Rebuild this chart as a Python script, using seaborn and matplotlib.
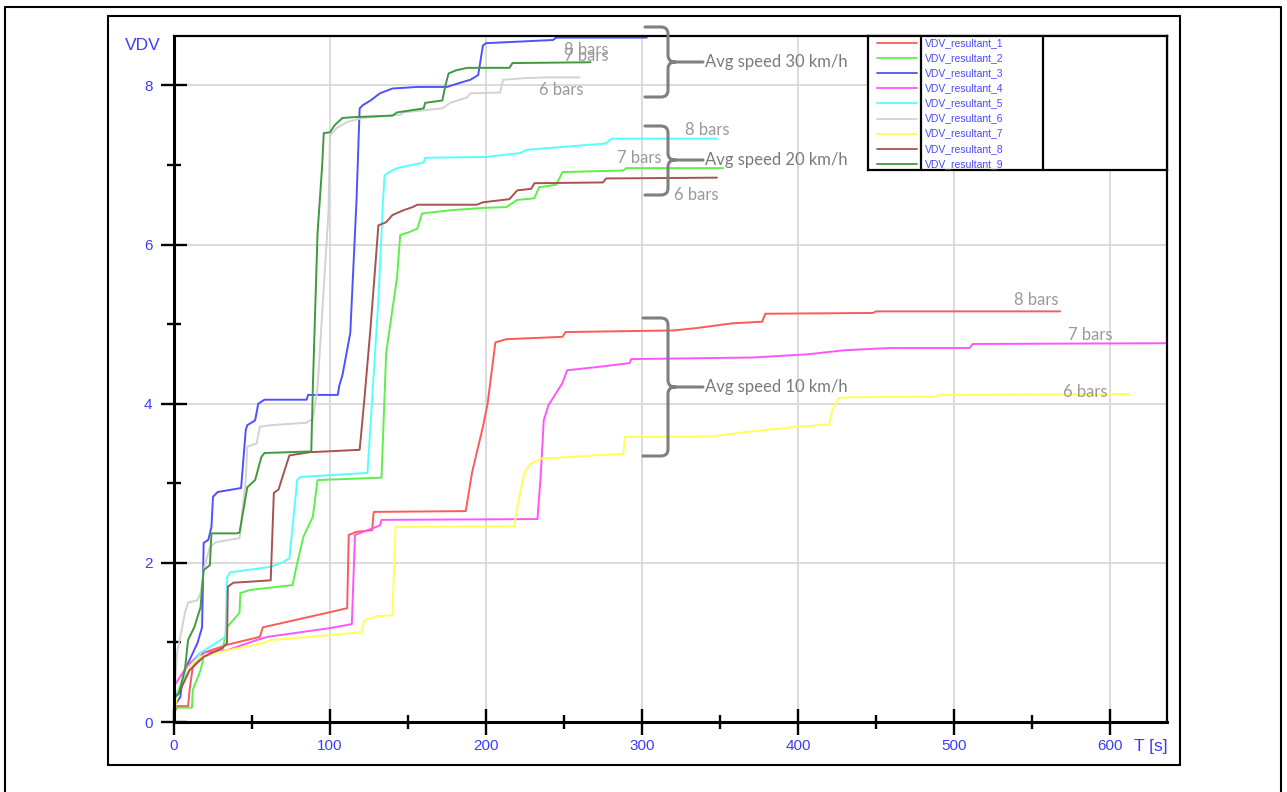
import matplotlib
matplotlib.use("Agg")
import matplotlib.pyplot as plt
import seaborn as sns
from matplotlib.path import Path
from matplotlib.patches import PathPatch, Rectangle
from matplotlib.lines import Line2D
from matplotlib.transforms import Affine2D
from matplotlib.ticker import MultipleLocator

# ---------------------------------------------------------------- data
series_names = [f"VDV_resultant_{i}" for i in range(1, 10)]
series_colors = ["#ff5a5a", "#5ef04a", "#5050ff", "#ff55ff", "#55ffff",
                 "#d2d2d2", "#ffff55", "#a85252", "#3e9a3e"]

t1 = [0, 2, 9, 10, 12, 19, 34, 55, 57, 100, 111, 112, 117, 127, 128, 187, 191, 198, 201, 206, 213, 249, 251, 320, 335, 358, 377, 379, 448, 450, 568]
v1 = [0.1, 0.2, 0.2, 0.4, 0.69, 0.87, 0.97, 1.07, 1.19, 1.38, 1.43, 2.35, 2.39, 2.41, 2.64, 2.65, 3.13, 3.71, 4.0, 4.77, 4.81, 4.84, 4.9, 4.92, 4.95, 5.01, 5.03, 5.13, 5.14, 5.16, 5.16]

t2 = [0, 1, 11.5, 12, 17, 19, 31, 34, 37, 42, 42.5, 49, 76, 79, 83, 89, 92, 133, 136, 143, 145, 150, 156, 159, 177, 198, 213, 220, 231, 234, 245, 249, 288, 290, 352]
v2 = [0.15, 0.18, 0.18, 0.4, 0.65, 0.82, 0.9, 1.19, 1.26, 1.37, 1.62, 1.66, 1.72, 2.0, 2.33, 2.58, 3.04, 3.07, 4.64, 5.59, 6.12, 6.15, 6.2, 6.39, 6.43, 6.46, 6.47, 6.56, 6.58, 6.72, 6.75, 6.91, 6.93, 6.96, 6.96]

t3 = [0, 4, 6, 10, 15, 18, 19, 22, 24, 25, 28, 43, 46, 47, 52, 54, 58, 85, 86, 105, 106, 108, 113, 116, 117, 119, 121, 126, 132, 140, 156, 175, 183, 190, 195, 198, 200, 211, 243, 245, 303]
v3 = [0.2, 0.31, 0.62, 0.78, 0.99, 1.19, 2.25, 2.29, 2.45, 2.83, 2.89, 2.94, 3.67, 3.73, 3.79, 4.0, 4.05, 4.05, 4.11, 4.11, 4.23, 4.36, 4.89, 6.14, 6.56, 7.71, 7.75, 7.81, 7.9, 7.96, 7.98, 7.98, 8.03, 8.07, 8.13, 8.5, 8.53, 8.54, 8.57, 8.6, 8.6]

t4 = [0, 8, 17, 34, 53, 60, 100, 114, 116, 132, 133, 233, 235, 237, 240, 249, 252, 271, 292, 293, 371, 406, 429, 459, 510, 512, 640]
v4 = [0.45, 0.69, 0.87, 0.9, 1.03, 1.07, 1.18, 1.23, 2.35, 2.47, 2.54, 2.55, 3.08, 3.79, 3.98, 4.26, 4.42, 4.46, 4.51, 4.56, 4.58, 4.62, 4.67, 4.7, 4.7, 4.75, 4.76]

t5 = [0, 5, 10, 17, 25, 33, 34, 36, 62, 70, 74, 79, 81, 124, 127, 131, 134, 135, 138, 143, 160, 161, 200, 222, 226, 277, 279, 281, 348]
v5 = [0.3, 0.5, 0.69, 0.87, 0.97, 1.07, 1.82, 1.88, 1.95, 2.01, 2.06, 3.04, 3.08, 3.13, 4.05, 5.3, 6.56, 6.87, 6.91, 6.96, 7.03, 7.09, 7.1, 7.15, 7.19, 7.27, 7.31, 7.33, 7.33]

t6 = [0, 2, 7, 9, 15, 17, 19, 23, 27, 42, 46, 47, 53, 55, 62, 85, 87, 89, 92, 99, 100, 104, 111, 121, 145, 147, 172, 177, 188, 190, 209, 211, 224, 239, 260]
v6 = [0.3, 0.87, 1.37, 1.5, 1.53, 1.62, 1.91, 2.2, 2.26, 2.31, 3.04, 3.46, 3.5, 3.71, 3.73, 3.76, 3.79, 3.8, 4.2, 6.4, 7.37, 7.46, 7.54, 7.59, 7.63, 7.66, 7.71, 7.78, 7.85, 7.9, 7.91, 8.07, 8.09, 8.1, 8.1]

t7 = [0, 5, 10, 17, 34, 57, 62, 100, 120, 122, 130, 140, 142, 218, 222, 225, 229, 235, 288, 289, 345, 365, 399, 420, 422, 426, 433, 489, 491, 612]
v7 = [0.15, 0.55, 0.7, 0.82, 0.9, 0.99, 1.03, 1.09, 1.13, 1.28, 1.33, 1.34, 2.45, 2.46, 2.9, 3.15, 3.25, 3.31, 3.37, 3.58, 3.59, 3.64, 3.71, 3.74, 3.92, 4.07, 4.08, 4.09, 4.11, 4.12]

t8 = [0, 3, 10, 19, 31, 34, 34.5, 38, 62, 64, 67, 71, 74, 87, 119, 122, 126, 129, 131, 136, 140, 147, 153, 156, 194, 198, 215, 220, 229, 231, 275, 277, 348]
v8 = [0.3, 0.36, 0.65, 0.82, 0.93, 0.99, 1.7, 1.75, 1.78, 2.88, 2.92, 3.17, 3.35, 3.39, 3.42, 4.05, 4.96, 5.72, 6.24, 6.28, 6.37, 6.43, 6.47, 6.5, 6.5, 6.53, 6.57, 6.68, 6.7, 6.77, 6.78, 6.83, 6.84]

t9 = [0, 3, 7, 9, 13, 17, 19, 23, 24, 40, 42, 47, 52, 56, 58, 88, 89, 92, 95, 96, 100, 103, 108, 115, 140, 143, 160, 161, 172, 174, 176, 181, 188, 215, 217, 267]
v9 = [0.3, 0.36, 0.65, 1.03, 1.19, 1.44, 1.91, 1.97, 2.37, 2.37, 2.38, 2.95, 3.04, 3.33, 3.38, 3.4, 4.21, 6.14, 7.0, 7.4, 7.41, 7.5, 7.59, 7.6, 7.62, 7.66, 7.71, 7.78, 7.81, 8.0, 8.15, 8.19, 8.22, 8.22, 8.28, 8.29]

times = [t1, t2, t3, t4, t5, t6, t7, t8, t9]
values = [v1, v2, v3, v4, v5, v6, v7, v8, v9]

# bar-count labels next to each group of curves: (text, t, VDV)
bar_labels = [
    ("8 bars", 264, 8.44), ("7 bars", 264, 8.37), ("6 bars", 248, 7.94),
    ("8 bars", 342, 7.44), ("7 bars", 298, 7.09), ("6 bars", 335, 6.62),
    ("8 bars", 553, 5.30), ("7 bars", 587, 4.86), ("6 bars", 584, 4.15),
]
speed_labels = ["Avg speed 30 km/h", "Avg speed 20 km/h", "Avg speed 10 km/h"]

# ---------------------------------------------------------------- style
sns.set_style("white")
plt.rcParams["font.family"] = ["Liberation Sans", "DejaVu Sans"]

W, H = 1287, 792
fig = plt.figure(figsize=(W / 100, H / 100), dpi=100)
px = Affine2D().scale(1 / W, -1 / H).translate(0, 1) + fig.transFigure

ax_l, ax_r, ax_t, ax_b = 174, 1167, 36, 722
ax = fig.add_axes([ax_l / W, 1 - ax_b / H, (ax_r - ax_l) / W, (ax_b - ax_t) / H])

for t, v, c in zip(times, values, series_colors):
    sns.lineplot(x=t, y=v, ax=ax, color=c, lw=1.4, sort=False,
                 estimator=None, legend=False)

ax.set_xlim(0, 636.5)
ax.set_ylim(0, 8.62)
ax.xaxis.set_major_locator(MultipleLocator(100))
ax.xaxis.set_minor_locator(MultipleLocator(50))
ax.yaxis.set_major_locator(MultipleLocator(2))
ax.yaxis.set_minor_locator(MultipleLocator(1))
ax.set_axisbelow(True)
ax.grid(True, which="major", color="#d9d9d9", lw=1.3)
blue = "#3c3cff"
ax.tick_params(which="both", left=True, bottom=True, top=False, right=False)
ax.tick_params(which="major", direction="inout", length=19, width=1.7,
               color="black", labelcolor=blue, labelsize=11)
ax.tick_params(which="minor", direction="inout", length=9.5, width=1.7,
               color="black")
ax.tick_params(axis="x", which="major", pad=3)
ax.tick_params(axis="y", which="major", pad=6)
ax.set_xlabel("")
ax.set_ylabel("")
for side, lw in [("left", 2.2), ("bottom", 2.2), ("top", 1.6), ("right", 1.6)]:
    ax.spines[side].set_visible(True)
    ax.spines[side].set_color("black")
    ax.spines[side].set_linewidth(lw)

fig.text(125, 45, "VDV", transform=px, color=blue, fontsize=12.5,
         ha="left", va="center")
fig.text(1134, 746, "T [s]", transform=px, color=blue, fontsize=12.5,
         ha="left", va="center")

# ---------------------------------------------------------------- legend panel
lg_l, lg_r, lg_t, lg_b = 868, 1167, 36, 170
lax = fig.add_axes([lg_l / W, 1 - lg_b / H, (lg_r - lg_l) / W, (lg_b - lg_t) / H])
lax.set_xlim(lg_l, lg_r)
lax.set_ylim(lg_b, lg_t)
lax.set_xticks([])
lax.set_yticks([])
lax.set_facecolor("white")
for s in lax.spines.values():
    s.set_visible(True)
    s.set_color("black")
    s.set_linewidth(1.6)
for xd in (921, 1043):
    lax.axvline(xd, color="black", lw=1.6)
for i, (name, c) in enumerate(zip(series_names, series_colors)):
    yy = 43 + i * 15.1
    lax.plot([877, 917], [yy, yy], color=c, lw=1.3)
    lax.text(925, yy, name, color="#4a4aff", fontsize=7.5, ha="left", va="center")

# ---------------------------------------------------------------- annotations
for txt, tx, vy in bar_labels:
    ax.text(tx, vy, txt, color="#9a9a9a", fontsize=12, ha="center",
            va="center", family=["Lato", "DejaVu Sans"])


def brace(x_end, x_spine, y_top, y_bot, y_tip, x_line, r=7):
    verts = [(x_end, y_top), (x_spine - r, y_top),
             (x_spine, y_top), (x_spine, y_top + r),
             (x_spine, y_tip - r),
             (x_spine, y_tip), (x_spine + r, y_tip),
             (x_line, y_tip),
             (x_spine + r, y_tip),
             (x_spine, y_tip), (x_spine, y_tip + r),
             (x_spine, y_bot - r),
             (x_spine, y_bot), (x_spine - r, y_bot),
             (x_end, y_bot)]
    codes = [Path.MOVETO, Path.LINETO,
             Path.CURVE3, Path.CURVE3,
             Path.LINETO,
             Path.CURVE3, Path.CURVE3,
             Path.LINETO,
             Path.MOVETO,
             Path.CURVE3, Path.CURVE3,
             Path.LINETO,
             Path.CURVE3, Path.CURVE3,
             Path.LINETO]
    patch = PathPatch(Path(verts, codes), transform=px, fill=False,
                      edgecolor="#7f7f7f", lw=2.2, capstyle="round")
    fig.add_artist(patch)


braces = [(645, 668, 27, 97, 62), (645, 668, 126, 195, 160), (643, 668, 318, 456, 387)]
for (xe, xs, yt, yb, ytip), lab in zip(braces, speed_labels):
    brace(xe, xs, yt, yb, ytip, 703)
    fig.text(705, ytip, lab, transform=px, color="#7a7a7a", fontsize=12,
             ha="left", va="center", family=["Lato", "DejaVu Sans"])

# ---------------------------------------------------------------- frames
fig.add_artist(Rectangle((108, 16), 1180 - 108, 765 - 16, transform=px,
                         fill=False, edgecolor="black", lw=1.5))
fig.add_artist(Line2D([5, 5, 1281, 1281], [792, 7, 7, 792], transform=px,
                      color="black", lw=1.5))

fig.savefig("out.png", dpi=100)
